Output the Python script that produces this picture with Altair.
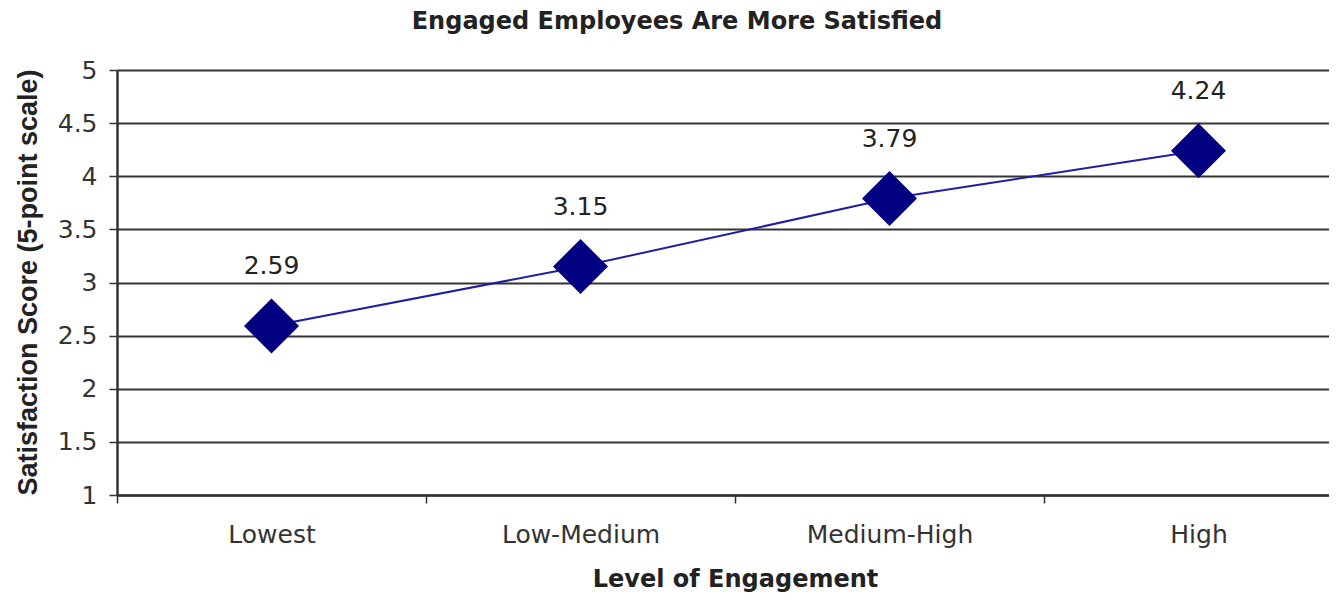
import altair as alt
import pandas as pd

categories = ["Lowest", "Low-Medium", "Medium-High", "High"]
scores = [2.59, 3.15, 3.79, 4.24]
y_ticks = [1, 1.5, 2, 2.5, 3, 3.5, 4, 4.5, 5]

df = pd.DataFrame({"level": categories, "score": scores,
                   "label": [f"{v:.2f}" for v in scores]})

x_enc = alt.X(
    "level:N",
    sort=categories,
    scale=alt.Scale(type="band", range=[0, 1236], paddingInner=0, paddingOuter=0),
    axis=alt.Axis(
        title="Level of Engagement",
        labelAngle=0,
        tickBand="extent",
        tickSize=8,
        tickColor="#333333",
        tickWidth=1.5,
        labelPadding=19,
        labelFont="DejaVu Sans",
        labelFontSize=25,
        labelColor="#333333",
        domainColor="#333333",
        domainWidth=2.5,
        grid=False,
        titleFont="DejaVu Sans",
        titleFontSize=24,
        titleFontWeight="bold",
        titleColor="#222222",
        titleX=618,
        titleY=84,
        titleBaseline="middle",
    ),
)

y_enc = alt.Y(
    "score:Q",
    scale=alt.Scale(domain=[1, 5], nice=False, zero=False),
    axis=alt.Axis(
        title="Satisfaction Score (5-point scale)",
        values=y_ticks,
        format=".1~f",
        tickSize=8,
        tickColor="#333333",
        tickWidth=1.5,
        labelPadding=12,
        labelFont="DejaVu Sans",
        labelFontSize=25,
        labelColor="#333333",
        domainColor="#333333",
        domainWidth=2.5,
        grid=True,
        gridColor="#333333",
        gridWidth=1.8,
        titleFont="Liberation Sans",
        titleFontSize=27,
        titleFontWeight="bold",
        titleColor="#222222",
        titleX=-89,
        titleY=212,
        titleBaseline="middle",
    ),
)

base = alt.Chart(df).encode(x=x_enc, y=y_enc)

line = base.mark_line(color="#1f1fa0", strokeWidth=2)
points = base.mark_point(shape="diamond", size=3025, filled=True,
                         color="#000080", opacity=1)
labels = base.mark_text(dy=-60, font="DejaVu Sans", fontSize=25,
                        color="#222222").encode(text="label:N")

chart = (
    alt.layer(line, points, labels)
    .properties(
        width=1212,
        height=425,
        title=alt.TitleParams(
            "Engaged Employees Are More Satisfied",
            font="DejaVu Sans",
            fontSize=24,
            fontWeight="bold",
            color="#222222",
            anchor="middle",
            frame="group",
            offset=24,
            dx=-46,
        ),
        autosize=alt.AutoSizeParams(type="none"),
        padding={"left": 109, "top": 62, "right": 0, "bottom": 99},
    )
    .configure_view(stroke=None)
    .configure(background="white")
)

chart.save("out.html", embed_options={"renderer": "svg", "actions": False})
